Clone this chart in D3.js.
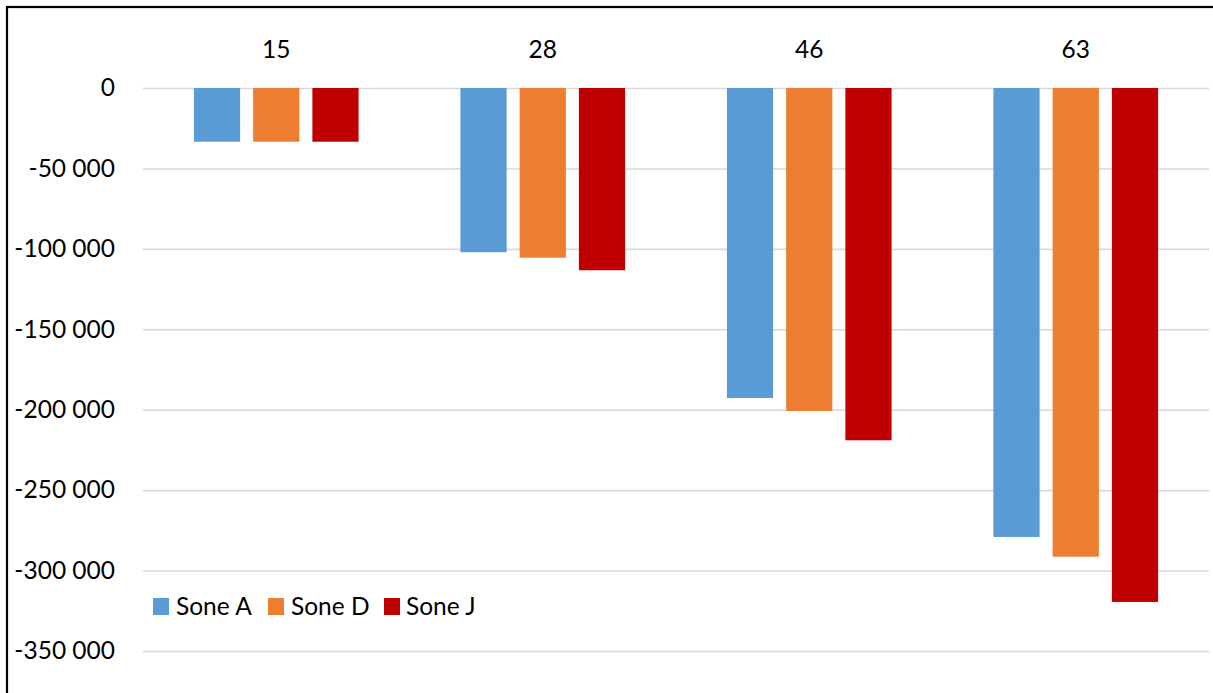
<!DOCTYPE html>
<html>
<head>
<meta charset="utf-8">
<script src="https://cdn.jsdelivr.net/npm/d3@7"></script>
<style>
  html, body { margin: 0; padding: 0; background: #fff; }
  svg { display: block; }
  text { font-family: Lato, "Open Sans", sans-serif; fill: #000; }
</style>
</head>
<body>
<svg id="chart" width="1213" height="693"></svg>
<script>
// Categories along the top and the three zones
const categories = ["15", "28", "46", "63"];
const seriesNames = ["Sone A", "Sone D", "Sone J"];
const seriesColors = ["#5B9BD5", "#ED7D31", "#C00000"];
const soneA = [-33400, -102100, -192700, -279100];
const soneD = [-33400, -105500, -200800, -291400];
const soneJ = [-33400, -113300, -219000, -319500];
const yTicks = [0, -50000, -100000, -150000, -200000, -250000, -300000, -350000];

const series = [soneA, soneD, soneJ];
const FONT_SIZE = 24.5;

const svg = d3.select("#chart");
const W = 1213, H = 693;
const plot = { left: 143, right: 1209, top: 88, bottom: 651 };

// Frame
svg.append("rect")
  .attr("x", 7).attr("y", 7)
  .attr("width", W + 10).attr("height", H + 10)
  .attr("fill", "none").attr("stroke", "#000").attr("stroke-width", 2.2);

const y = d3.scaleLinear()
  .domain([0, -350000])
  .range([plot.top, plot.bottom]);

const x0 = d3.scaleBand()
  .domain(categories)
  .range([plot.left, plot.right])
  .paddingInner(0.382)
  .paddingOuter(0.191);

const x1 = d3.scaleBand()
  .domain(seriesNames)
  .range([0, x0.bandwidth()])
  .paddingInner(0.22);

const fmt = v => d3.format(",")(v).replace(/,/g, " ").replace("−", "-");

// Gridlines
const grid = d3.axisLeft(y)
  .tickValues(yTicks)
  .tickSize(-(plot.right - plot.left))
  .tickFormat("");
svg.append("g")
  .attr("transform", `translate(${plot.left},0)`)
  .call(grid)
  .call(g => g.select(".domain").remove())
  .call(g => g.selectAll("line").attr("stroke", "#d9d9d9").attr("stroke-width", 1.6));

// Y tick labels
const yAxis = d3.axisLeft(y)
  .tickValues(yTicks)
  .tickSize(0)
  .tickPadding(0)
  .tickFormat(fmt);
svg.append("g")
  .attr("transform", `translate(115,0)`)
  .call(yAxis)
  .call(g => g.select(".domain").remove())
  .call(g => g.selectAll("text")
    .attr("font-size", FONT_SIZE)
    .style("font-family", "Lato, 'Open Sans', sans-serif")
    .attr("fill", "#000"));

// Category labels at the top
const xAxis = d3.axisTop(x0.copy().paddingInner(0).paddingOuter(0))
  .tickSize(0)
  .tickPadding(0);
svg.append("g")
  .attr("transform", `translate(0,58)`)
  .call(xAxis)
  .call(g => g.select(".domain").remove())
  .call(g => g.selectAll("text")
    .attr("font-size", FONT_SIZE)
    .attr("dy", 0)
    .style("font-family", "Lato, 'Open Sans', sans-serif")
    .attr("fill", "#000"));

// Bars
const groups = svg.append("g").selectAll("g")
  .data(categories)
  .join("g")
  .attr("transform", d => `translate(${x0(d)},0)`);

groups.selectAll("rect")
  .data((d, i) => seriesNames.map((s, k) => ({ s, k, v: series[k][i] })))
  .join("rect")
  .attr("x", d => x1(d.s))
  .attr("width", x1.bandwidth())
  .attr("y", d => y(Math.max(0, d.v)))
  .attr("height", d => Math.abs(y(d.v) - y(0)))
  .attr("fill", d => seriesColors[d.k]);

// Legend
const legendItems = [
  { x: 153, tx: 176 },
  { x: 268, tx: 291 },
  { x: 384, tx: 406 }
];
const legend = svg.append("g");
seriesNames.forEach((name, k) => {
  legend.append("rect")
    .attr("x", legendItems[k].x).attr("y", 598)
    .attr("width", 16).attr("height", 17)
    .attr("fill", seriesColors[k]);
  legend.append("text")
    .attr("x", legendItems[k].tx).attr("y", 615)
    .attr("font-size", FONT_SIZE)
    .text(name);
});
</script>
</body>
</html>
